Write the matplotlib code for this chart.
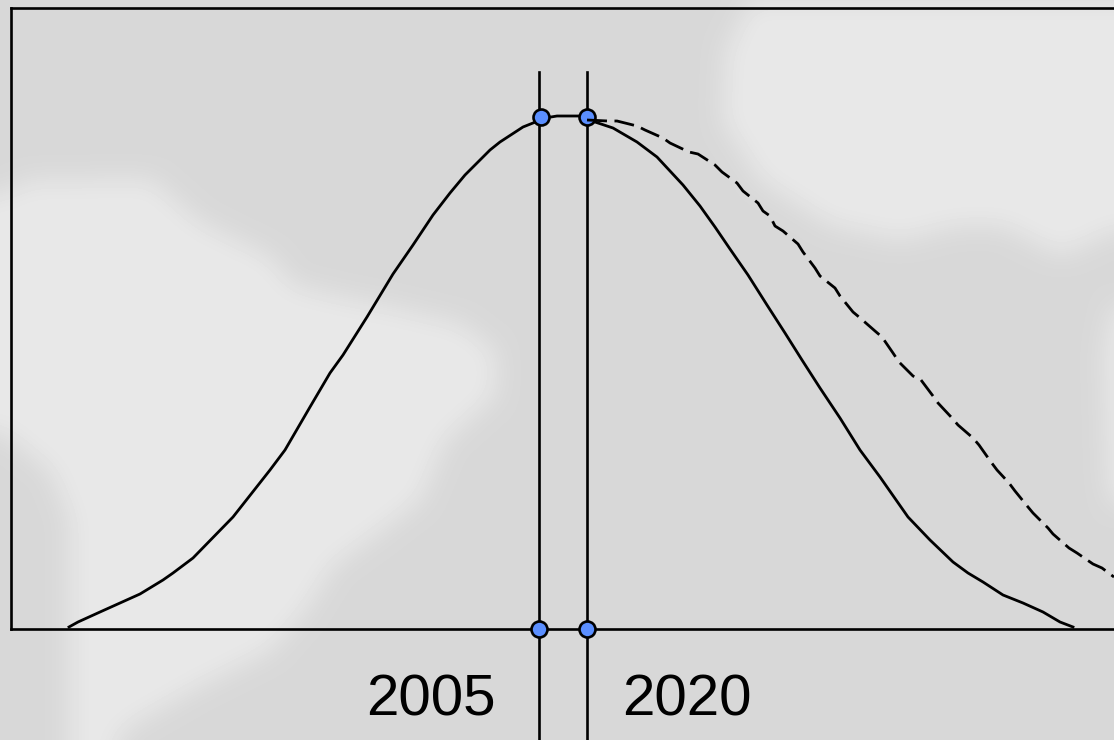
import numpy as np
import matplotlib
matplotlib.use('Agg')
import matplotlib.pyplot as plt
from matplotlib.path import Path

# light land shapes in the backdrop, in picture pixels
land_south = [(0, 195), (30, 180), (150, 178), (200, 222), (270, 256), (293, 285), (343, 297), (393, 307),
              (460, 323), (495, 350), (495, 395), (445, 440), (420, 500), (377, 533), (333, 565), (305, 610),
              (270, 650), (200, 685), (130, 725), (115, 740), (70, 740), (70, 520), (50, 470), (0, 430)]
land_north = [(750, 0), (725, 50), (722, 120), (760, 180), (830, 225), (900, 240), (960, 225), (1000, 225),
              (1060, 255), (1095, 240), (1114, 230), (1114, 0)]
land_east = [(1114, 300), (1104, 350), (1108, 480), (1114, 510)]

# solid curve, x and height above the baseline
solid_x = [69, 78, 100, 120, 140, 163, 173, 193, 233, 270, 285, 310, 330, 343, 367, 393, 413, 433, 450, 465,
           490, 500, 523, 533, 545, 557, 580, 595, 613, 637, 657, 683, 700, 715, 730, 748, 767, 785, 802, 820,
           840, 860, 880, 908, 930, 953, 968, 983, 1003, 1023, 1043, 1060, 1073]
solid_y = [2, 7, 17, 26, 35, 49, 56, 71, 112, 159, 179, 222, 256, 274, 312, 355, 384, 414, 436, 454,
           479, 487, 502, 506, 511, 513, 513, 507, 501, 487, 472, 444, 423, 402, 380, 354, 324, 296, 269, 241,
           211, 179, 152, 112, 89, 67, 56, 47, 34, 26, 17, 7, 2]

# dashed curve, same units
dash_x = [587, 608, 617, 637, 645, 663, 670, 689, 698, 715, 722, 737, 743, 758, 763, 770, 775, 783, 798, 803,
          815, 820, 835, 840, 853, 859, 875, 882, 893, 899, 913, 921, 933, 938, 952, 958, 973, 979, 991, 997,
          1009, 1015, 1028, 1033, 1048, 1053, 1069, 1077, 1093, 1102, 1114]
dash_y = [509, 508, 508, 503, 499, 491, 486, 477, 475, 464, 457, 446, 438, 426, 418, 413, 403, 398, 385, 377,
          361, 353, 341, 333, 317, 312, 298, 292, 276, 267, 253, 249, 233, 226, 211, 204, 191, 184, 167, 159,
          146, 138, 122, 116, 101, 95, 81, 76, 65, 61, 52]

# the two years
years = ['2005', '2020']
year_x = [539, 587]
peak_x = [541, 587]
peak_y = [512, 512]

W, H = 1114, 740
fig = plt.figure(figsize=(W / 100, H / 100), dpi=100)

# backdrop: grey with soft light land
yy, xx = np.mgrid[0:H, 0:W]
pts = np.column_stack([xx.ravel(), yy.ravel()])
mask = np.zeros(H * W)
for shape in [land_south, land_north, land_east]:
    mask[Path(shape).contains_points(pts)] = 1
mask = mask.reshape(H, W)
pad = 60
mask = np.pad(mask, pad, mode='edge')
kernel = np.ones(29) / 29
for i in range(2):
    mask = np.apply_along_axis(lambda r: np.convolve(r, kernel, mode='same'), 0, mask)
    mask = np.apply_along_axis(lambda r: np.convolve(r, kernel, mode='same'), 1, mask)
mask = mask[pad:-pad, pad:-pad]
bg = fig.add_axes([0, 0, 1, 1])
bg.imshow(216 + mask * (232 - 216), cmap='gray', vmin=0, vmax=255, aspect='auto')
bg.axis('off')

# x axis runs in picture pixels, y is height above the baseline
ax = fig.add_axes([11 / W, 1 - 629 / H, (W - 11) / W, (629 - 8) / H])
ax.set_xlim(11, W)
ax.set_ylim(0, 621)
ax.patch.set_visible(False)
ax.set_xticks([])
ax.set_yticks([])
for s in ['top', 'left', 'bottom']:
    ax.spines[s].set_linewidth(1.9)
    ax.spines[s].set_color('black')
ax.spines['right'].set_visible(False)

for x in year_x:
    ax.plot([x, x], [-111, 557], color='black', lw=1.9, clip_on=False, zorder=2)
ax.plot(solid_x, solid_y, color='black', lw=2, zorder=3)

marker = dict(marker='o', ms=11.5, mfc='#5b8fff', mec='black', mew=1.9, ls='none', clip_on=False, zorder=4)
ax.plot(peak_x, peak_y, **marker)
ax.plot(year_x, [0, 0], **marker)
ax.plot(dash_x, dash_y, color='black', lw=2, dashes=(7.2, 2.7), zorder=5)

ax.text(431, -86, years[0], ha='center', va='baseline', fontsize=42, family='Liberation Sans')
ax.text(687, -86, years[1], ha='center', va='baseline', fontsize=42, family='Liberation Sans')

fig.savefig('out.png', dpi=100)
